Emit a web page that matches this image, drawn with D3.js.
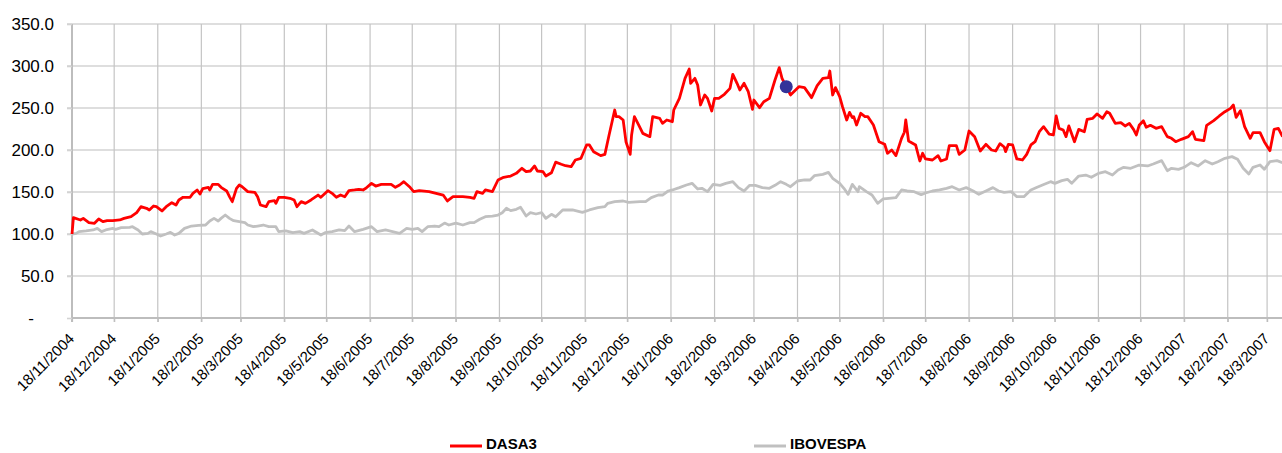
<!DOCTYPE html>
<html>
<head>
<meta charset="utf-8">
<script src="https://cdn.jsdelivr.net/npm/d3@7"></script>
<style>
  body { margin: 0; background: #fff; }
  svg { display: block; font-family: "Liberation Sans", Arial, sans-serif; }
</style>
</head>
<body>
<div id="chart"></div>
<script>
// DASA3 (red) - rebased to 100 on 18/11/2004
const dasaDates = [
  "2004-11-18","2004-11-19","2004-11-24","2004-11-26","2004-11-30","2004-12-04","2004-12-07","2004-12-10","2004-12-13","2004-12-17",
  "2004-12-22","2004-12-25","2004-12-30","2005-01-03","2005-01-06","2005-01-10","2005-01-12","2005-01-15","2005-01-17","2005-01-21",
  "2005-01-24","2005-01-28","2005-01-31","2005-02-02","2005-02-05","2005-02-10","2005-02-12","2005-02-15","2005-02-17","2005-02-19",
  "2005-02-23","2005-02-24","2005-02-26","2005-03-02","2005-03-04","2005-03-08","2005-03-10","2005-03-12","2005-03-15","2005-03-17",
  "2005-03-19","2005-03-23","2005-03-28","2005-03-30","2005-04-01","2005-04-05","2005-04-07","2005-04-11","2005-04-12","2005-04-14",
  "2005-04-18","2005-04-22","2005-04-25","2005-04-27","2005-04-30","2005-05-03","2005-05-07","2005-05-12","2005-05-14","2005-05-19",
  "2005-05-22","2005-05-25","2005-05-28","2005-05-31","2005-06-03","2005-06-07","2005-06-10","2005-06-13","2005-06-15","2005-06-19",
  "2005-06-22","2005-06-26","2005-07-03","2005-07-06","2005-07-09","2005-07-12","2005-07-16","2005-07-19","2005-07-23","2005-07-30",
  "2005-08-04","2005-08-09","2005-08-12","2005-08-16","2005-08-23","2005-08-28","2005-08-31","2005-09-02","2005-09-06","2005-09-08",
  "2005-09-13","2005-09-17","2005-09-21","2005-09-26","2005-09-30","2005-10-04","2005-10-07","2005-10-10","2005-10-13","2005-10-15",
  "2005-10-19","2005-10-21","2005-10-25","2005-10-28","2005-11-01","2005-11-04","2005-11-08","2005-11-11","2005-11-15","2005-11-19",
  "2005-11-21","2005-11-24","2005-11-29","2005-12-02","2005-12-05","2005-12-09","2005-12-10","2005-12-12","2005-12-15","2005-12-17",
  "2005-12-20","2005-12-21","2005-12-23","2005-12-26","2005-12-29","2006-01-03","2006-01-05","2006-01-10","2006-01-12","2006-01-15",
  "2006-01-19","2006-01-20","2006-01-24","2006-01-28","2006-01-31","2006-02-01","2006-02-04","2006-02-06","2006-02-08","2006-02-11",
  "2006-02-13","2006-02-16","2006-02-18","2006-02-21","2006-02-25","2006-03-01","2006-03-03","2006-03-06","2006-03-08","2006-03-11",
  "2006-03-14","2006-03-17","2006-03-18","2006-03-22","2006-03-25","2006-03-29","2006-04-02","2006-04-05","2006-04-07","2006-04-10",
  "2006-04-13","2006-04-19","2006-04-23","2006-04-28","2006-05-02","2006-05-06","2006-05-10","2006-05-11","2006-05-13","2006-05-15",
  "2006-05-18","2006-05-20","2006-05-23","2006-05-25","2006-05-27","2006-05-28","2006-05-30","2006-06-02","2006-06-05","2006-06-07",
  "2006-06-11","2006-06-15","2006-06-19","2006-06-21","2006-06-24","2006-06-27","2006-07-01","2006-07-03","2006-07-04","2006-07-06",
  "2006-07-11","2006-07-14","2006-07-16","2006-07-18","2006-07-23","2006-07-27","2006-07-29","2006-08-02","2006-08-04","2006-08-09",
  "2006-08-11","2006-08-15","2006-08-18","2006-08-22","2006-08-26","2006-08-30","2006-09-03","2006-09-06","2006-09-09","2006-09-12",
  "2006-09-13","2006-09-15","2006-09-18","2006-09-21","2006-09-25","2006-09-28","2006-10-01","2006-10-04","2006-10-07","2006-10-10",
  "2006-10-14","2006-10-17","2006-10-19","2006-10-21","2006-10-24","2006-10-26","2006-10-28","2006-11-01","2006-11-04","2006-11-08",
  "2006-11-10","2006-11-14","2006-11-17","2006-11-21","2006-11-24","2006-11-26","2006-11-30","2006-12-04","2006-12-07","2006-12-10",
  "2006-12-13","2006-12-15","2006-12-17","2006-12-20","2006-12-22","2006-12-25","2006-12-29","2007-01-02","2007-01-06","2007-01-09",
  "2007-01-12","2007-01-16","2007-01-21","2007-01-24","2007-01-26","2007-02-01","2007-02-03","2007-02-08","2007-02-12","2007-02-16",
  "2007-02-20","2007-02-22","2007-02-24","2007-02-27","2007-03-02","2007-03-06","2007-03-08","2007-03-13","2007-03-16","2007-03-20",
  "2007-03-23","2007-03-26","2007-03-29"
];
const dasaValues = [
  100,119.4,116.7,118.6,113.5,112.7,117.9,114.7,115.9,115.9,
  116.7,118.6,120.6,125.4,132.5,130.6,128.6,133.3,132.5,127.4,
  132.5,137.3,134.5,140.5,143.7,143.7,148.4,152.4,147.6,154,
  155.6,152.4,159.1,159.1,155.6,151.2,144.5,138.5,154.4,158.3,
  156.3,150.4,149.6,144.4,134.5,132.5,138.5,139.7,136.5,143.7,
  143.7,142.5,140.5,132.5,138.5,136.5,140.5,146.4,143.7,151.6,
  148.4,143.7,146.4,144.4,151.6,152.4,153.2,152.4,154.4,160.3,
  157.1,159.1,159.1,155.6,158.3,162.3,156.3,150.4,151.6,150.4,
  148.4,146.4,139.3,144.4,144.4,143.7,142.5,150.4,148.4,152.4,
  150.4,164.3,167.5,169,172.2,178.2,174.2,175,181,175,
  174.2,169,173,185.5,183,181.3,180.2,188.1,190.1,206,
  206,198,193.3,194.8,217.9,247.6,239.7,239.7,235.7,209.9,
  194.8,217.9,239.7,229.8,219.8,215.9,239.7,237.7,231.7,235.7,
  233.7,247.6,261.5,285.3,296.4,279.4,285.3,277.4,253.6,265.5,
  261.5,246.4,261.5,261.5,266.3,273.4,290.1,279.4,271.4,279.4,
  269.4,248.4,259.5,250.4,257.5,261.5,283.3,298,285.3,275.4,
  265.5,275.4,274.2,262.3,276.6,285.3,286.1,294,265.5,274.2,
  263.5,251.6,235.7,244.8,238.5,239.7,229.8,243.7,239.7,239.7,
  229.8,209.9,206.8,196.1,200,193.3,213.9,221.1,235.7,210.7,
  206,186.9,196.1,189.3,188.1,193.3,186.9,189.3,205.2,205.2,
  194.8,200,222.6,215.9,198.8,206.8,200,198.8,207.6,203.6,
  198,206.8,206,189.3,188.1,194.8,206,210,221.8,227.8,
  219,217.9,240.5,225.8,223.8,215.9,228.6,209.9,224.6,221.8,
  236.5,237.7,242.9,237.7,245.6,243.7,231.7,232.5,228.6,231.7,
  224.6,217.9,229.4,234.9,227,229.4,225.8,227.8,215.9,213.9,
  209.9,212.7,215.9,221.8,212.7,211.1,229.4,234.9,240.5,245.6,
  249.6,253.6,238.9,246.8,227.8,213.9,220.6,220.6,209.9,199.2,
  224.6,225.8,215.9
];

// IBOVESPA (grey) - rebased to 100 on 18/11/2004
const iboDates = [
  "2004-11-18","2004-11-21","2004-11-23","2004-11-28","2004-12-03","2004-12-06","2004-12-09","2004-12-12","2004-12-17","2004-12-19",
  "2004-12-23","2004-12-29","2004-12-31","2005-01-04","2005-01-07","2005-01-11","2005-01-13","2005-01-17","2005-01-20","2005-01-24",
  "2005-01-27","2005-01-30","2005-02-02","2005-02-06","2005-02-11","2005-02-16","2005-02-21","2005-02-24","2005-02-27","2005-03-02",
  "2005-03-04","2005-03-07","2005-03-10","2005-03-13","2005-03-17","2005-03-21","2005-03-23","2005-03-27","2005-03-30","2005-04-03",
  "2005-04-07","2005-04-12","2005-04-14","2005-04-19","2005-04-24","2005-04-29","2005-05-02","2005-05-08","2005-05-14","2005-05-17",
  "2005-05-22","2005-05-27","2005-05-31","2005-06-03","2005-06-07","2005-06-13","2005-06-19","2005-06-23","2005-06-29","2005-07-04",
  "2005-07-09","2005-07-14","2005-07-18","2005-07-22","2005-07-25","2005-07-29","2005-08-03","2005-08-06","2005-08-10","2005-08-13",
  "2005-08-18","2005-08-23","2005-08-28","2005-08-31","2005-09-04","2005-09-08","2005-09-13","2005-09-17","2005-09-20","2005-09-23",
  "2005-09-26","2005-09-30","2005-10-03","2005-10-07","2005-10-10","2005-10-14","2005-10-18","2005-10-21","2005-10-25","2005-10-28",
  "2005-11-02","2005-11-09","2005-11-16","2005-11-21","2005-11-27","2005-12-02","2005-12-04","2005-12-09","2005-12-15","2005-12-19",
  "2005-12-27","2005-12-31","2006-01-04","2006-01-09","2006-01-12","2006-01-16","2006-01-19","2006-01-24","2006-01-29","2006-02-02",
  "2006-02-06","2006-02-09","2006-02-13","2006-02-17","2006-02-22","2006-02-26","2006-03-03","2006-03-07","2006-03-11","2006-03-15",
  "2006-03-19","2006-03-24","2006-03-29","2006-04-02","2006-04-06","2006-04-10","2006-04-13","2006-04-18","2006-04-23","2006-04-27",
  "2006-04-30","2006-05-06","2006-05-10","2006-05-13","2006-05-18","2006-05-21","2006-05-24","2006-05-27","2006-05-31","2006-06-01",
  "2006-06-06","2006-06-10","2006-06-14","2006-06-18","2006-06-22","2006-06-27","2006-07-01","2006-07-05","2006-07-10","2006-07-15",
  "2006-07-18","2006-07-23","2006-07-28","2006-08-02","2006-08-06","2006-08-11","2006-08-16","2006-08-21","2006-08-25","2006-08-30",
  "2006-09-04","2006-09-08","2006-09-12","2006-09-17","2006-09-21","2006-09-26","2006-10-01","2006-10-05","2006-10-11","2006-10-15",
  "2006-10-18","2006-10-23","2006-10-27","2006-10-30","2006-11-04","2006-11-09","2006-11-13","2006-11-18","2006-11-23","2006-11-28",
  "2006-12-02","2006-12-06","2006-12-11","2006-12-17","2006-12-23","2006-12-27","2007-01-02","2007-01-06","2007-01-09","2007-01-14",
  "2007-01-18","2007-01-23","2007-01-28","2007-02-02","2007-02-07","2007-02-11","2007-02-16","2007-02-21","2007-02-25","2007-03-01",
  "2007-03-05","2007-03-08","2007-03-13","2007-03-16","2007-03-20","2007-03-25","2007-03-29"
];
const iboValues = [
  100,100.8,102.8,103.6,104.8,106.7,102.8,104.8,106.7,105.6,
  107.5,107.9,108.7,104.8,100,100.8,102.8,100,97.6,100,
  102,98.8,100.8,106.7,109.5,110.3,110.7,115.5,118.6,115.5,
  118.6,122.6,118.6,115.9,114.7,113.5,110.7,108.7,109.5,110.7,
  108.7,108.7,102.8,103.6,101.6,102.8,100.8,104.8,98.8,101.6,
  102.8,104.8,104,109.5,102.8,105.6,108.7,102.8,104.8,102.8,
  100.8,106.7,105.6,106.7,102.8,108.7,109.5,108.7,113,110.7,
  113,110.7,113.5,113.5,117.5,120.6,121.4,122.6,125.4,130.6,
  127.8,129.4,131.8,121.4,125.4,123.8,125.4,118.6,123.4,120.6,
  128.6,128.6,125.8,128.6,131.3,132.5,136.5,138.5,139.3,137.7,
  138.5,138.5,143.3,146.4,146.4,151.2,152.4,155.2,158.3,160.3,
  153.6,154.4,150.4,159.1,157.9,160.3,162.3,155.2,151.2,157.9,
  157.9,155.2,154.4,157.9,162.3,159.1,156.3,163.1,164.3,164.3,
  169.4,171,173.4,166.3,160.3,154.4,147.2,159.1,150.4,156.3,
  150.4,146.4,136.5,141.7,142.5,143.3,152.4,151.2,150.4,146.8,
  148.8,151.2,152.4,154.4,156.3,152.4,155.2,151.2,147.2,151.2,
  155.2,151.2,149.6,150.4,144.4,144.4,152.4,155.4,159.5,162.3,
  160.3,163.5,165.1,160.3,169,170.2,167.5,172.2,174.2,170.2,
  176.2,179.4,178.2,182.1,181,183.3,187.3,175.4,178.2,177,
  179.4,184.9,181,187.3,183.3,186.1,190.1,192.1,188.9,178.2,
  171.4,179.4,182.1,177,186.1,187.3,184.9
];

// highlighted point
const markerDate = "2006-04-10";
const markerValue = 275.4;

const yTicks = [0, 50, 100, 150, 200, 250, 300, 350];
const xTickLabels = [
  "18/11/2004","18/12/2004","18/1/2005","18/2/2005","18/3/2005","18/4/2005","18/5/2005","18/6/2005",
  "18/7/2005","18/8/2005","18/9/2005","18/10/2005","18/11/2005","18/12/2005","18/1/2006","18/2/2006",
  "18/3/2006","18/4/2006","18/5/2006","18/6/2006","18/7/2006","18/8/2006","18/9/2006","18/10/2006",
  "18/11/2006","18/12/2006","18/1/2007","18/2/2007","18/3/2007"
];
const seriesNames = ["DASA3", "IBOVESPA"];
const seriesColors = ["#ff0000", "#c0c0c0"];

const width = 1282,
    height = 453,
    padLeft = 72,   // y axis position
    padTop = 24,
    axisY = 318;    // x axis position

const parseIso = d3.utcParse("%Y-%m-%d");
const parseTick = d3.utcParse("%d/%m/%Y");
const fmtTick = d3.utcFormat("%-d/%-m/%Y");

const xStart = parseIso("2004-11-18"), xEnd = parseIso("2007-03-29");
const pxPerDay = 1.406;

const x = d3.scaleUtc()
  .domain([xStart, xEnd])
  .range([padLeft, padLeft + pxPerDay * (xEnd - xStart) / 864e5]);
const y = d3.scaleLinear().domain([0, 350]).range([axisY, padTop]);

const svg = d3.select("#chart")
  .append("svg")
  .attr("width", width)
  .attr("height", height);

const tickDates = xTickLabels.map(parseTick);

// horizontal gridlines (with small stubs left of the axis)
svg.append("g")
  .selectAll("line")
  .data(yTicks.filter(d => d > 0))
  .enter()
  .append("line")
  .attr("x1", padLeft - 5)
  .attr("x2", width)
  .attr("y1", d => y(d))
  .attr("y2", d => y(d))
  .attr("stroke", "#d3d3d3")
  .attr("stroke-width", 1.6);

// vertical gridlines
svg.append("g")
  .selectAll("line")
  .data(tickDates.slice(1))
  .enter()
  .append("line")
  .attr("x1", d => x(d))
  .attr("x2", d => x(d))
  .attr("y1", padTop)
  .attr("y2", axisY + 4)
  .attr("stroke", "#c4c4c4")
  .attr("stroke-width", 1.2);

// axes
const xAxis = d3.axisBottom(x).tickValues(tickDates).tickFormat(fmtTick).tickSize(4);
const yAxis = d3.axisLeft(y).tickValues(yTicks)
  .tickFormat(d => d === 0 ? "-" : d.toFixed(1))
  .tickSize(5).tickPadding(13);

const gx = svg.append("g")
  .attr("transform", "translate(0," + axisY + ")")
  .call(xAxis);
gx.select(".domain").attr("d", "M" + padLeft + ",0H" + width).attr("stroke", "#bdbdbd").attr("stroke-width", 2);
gx.selectAll(".tick line").attr("stroke", "#bdbdbd").attr("stroke-width", 1.2);
gx.selectAll(".tick text")
  .attr("y", 0)
  .attr("dy", "0.35em")
  .attr("text-anchor", "end")
  .attr("transform", "translate(-1,18) rotate(-45)")
  .attr("font-size", 15)
  .attr("fill", "#000");

const gy = svg.append("g")
  .attr("transform", "translate(" + padLeft + ",0)")
  .call(yAxis);
gy.select(".domain").attr("d", "M0," + padTop + "V" + (axisY + 4)).attr("stroke", "#bdbdbd").attr("stroke-width", 2);
gy.selectAll(".tick line").attr("stroke", "#d3d3d3").attr("stroke-width", 1.6);
gy.selectAll(".tick text")
  .attr("font-size", 17)
  .attr("fill", "#000")
  .attr("x", d => d === 0 ? -38 : -18);

// series lines
const line = d3.line()
  .x(d => x(d[0]))
  .y(d => y(d[1]));

const series = [
  d3.zip(dasaDates.map(parseIso), dasaValues),
  d3.zip(iboDates.map(parseIso), iboValues)
];

svg.append("path")
  .datum(series[1])
  .attr("fill", "none")
  .attr("stroke", seriesColors[1])
  .attr("stroke-width", 2.8)
  .attr("stroke-linejoin", "round")
  .attr("d", line);

svg.append("path")
  .datum(series[0])
  .attr("fill", "none")
  .attr("stroke", seriesColors[0])
  .attr("stroke-width", 2.8)
  .attr("stroke-linejoin", "round")
  .attr("d", line);

svg.append("circle")
  .attr("cx", x(parseIso(markerDate)))
  .attr("cy", y(markerValue))
  .attr("r", 6.5)
  .attr("fill", "#333399");

// legend
const legendX = [450, 754];
const lg = svg.append("g").selectAll("g")
  .data(seriesNames)
  .enter()
  .append("g")
  .attr("transform", (d, i) => "translate(" + legendX[i] + ",446)");
lg.append("line")
  .attr("x1", 0).attr("x2", 32)
  .attr("stroke", (d, i) => seriesColors[i])
  .attr("stroke-width", 3);
lg.append("text")
  .attr("x", 36)
  .attr("y", 3)
  .attr("font-size", 15)
  .attr("font-weight", "bold")
  .text(d => d);
</script>
</body>
</html>
